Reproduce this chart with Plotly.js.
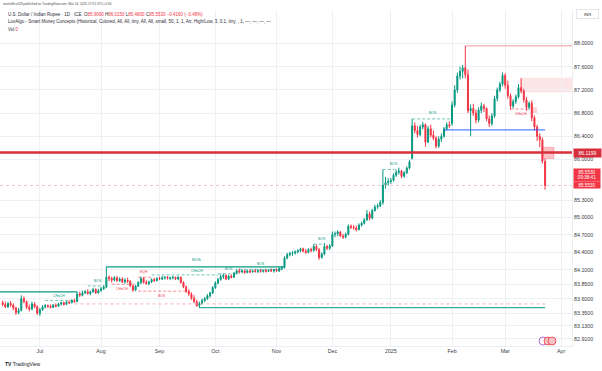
<!DOCTYPE html>
<html>
<head>
<meta charset="utf-8">
<script src="https://cdn.plot.ly/plotly-3.0.1.min.js"></script>
<style>
  html, body { margin: 0; padding: 0; background: #ffffff; }
  #chart { width: 602px; height: 371px; }
</style>
</head>
<body>
<div id="chart"></div>
<script>
// ---------- Candle data: USD/INR daily (ICE), 2024-06-11 .. 2025-03-24 (weekdays) ----------
const firstDay = "2024-06-11";
const lastDay  = "2025-03-24";

const openArr = [
  // Jun
  83.53,83.50,83.46,83.52,83.49,83.44,83.36,83.40,83.60,83.55,83.45,83.42,83.51,83.46,
  // Jul
  83.35,83.41,83.46,83.48,83.47,83.45,83.49,83.47,83.51,83.53,83.50,83.54,83.53,83.57,83.55,83.68,83.66,83.70,83.72,83.69,83.72,83.76,83.70,
  // Aug
  83.74,83.77,83.80,83.97,83.95,83.92,83.96,83.91,83.94,83.89,83.92,83.90,83.82,83.75,83.82,83.88,83.95,83.88,83.86,83.89,83.93,83.91,
  // Sep
  83.95,83.94,83.96,83.97,83.95,83.96,83.97,83.94,83.97,83.88,83.80,83.73,83.68,83.61,83.55,83.48,83.52,83.57,83.60,83.65,83.70,
  // Oct
  83.79,83.87,83.93,83.98,84.00,83.94,83.99,83.97,84.04,84.08,84.06,84.08,84.05,84.08,84.06,84.08,84.07,84.09,84.07,84.09,84.07,84.09,84.08,
  // Nov
  84.10,84.08,84.12,84.14,84.30,84.36,84.38,84.39,84.41,84.43,84.46,84.42,84.40,84.45,84.43,84.50,84.45,84.31,84.37,84.50,84.47,
  // Dec
  84.51,84.71,84.72,84.75,84.68,84.66,84.71,84.85,84.83,84.82,84.79,84.87,84.90,84.96,85.06,84.99,85.12,85.18,85.20,85.26,85.56,85.60,
  // Jan
  85.62,85.64,85.73,85.78,85.80,85.71,85.77,85.85,86.02,86.58,86.50,86.43,86.56,86.60,86.30,86.53,86.42,86.37,86.23,86.35,86.40,86.53,86.60,
  // Feb
  86.62,86.94,87.20,87.44,87.52,87.58,87.46,86.84,86.88,86.80,86.68,86.85,86.92,86.88,86.70,86.62,86.75,87.05,87.20,87.30,
  // Mar
  87.45,87.28,87.10,86.92,87.00,87.08,87.24,87.18,87.03,86.90,86.97,86.72,86.56,86.40,86.34,85.969
];
const highArr = [
  83.57,83.55,83.54,83.56,83.52,83.46,83.44,83.66,83.64,83.57,83.50,83.55,83.54,83.49,
  83.44,83.49,83.51,83.50,83.50,83.51,83.52,83.53,83.55,83.55,83.56,83.57,83.59,83.60,83.72,83.72,83.74,83.75,83.76,83.74,83.79,83.78,83.77,
  83.80,83.83,84.15,84.00,83.98,83.99,83.99,83.97,83.97,83.95,83.96,83.92,83.84,83.84,83.90,83.98,83.97,83.92,83.91,83.95,83.96,83.97,
  83.98,83.99,83.99,83.99,83.98,83.99,83.98,83.99,83.98,83.90,83.83,83.76,83.71,83.66,83.58,83.55,83.60,83.63,83.68,83.72,83.82,
  83.90,83.96,84.02,84.03,84.02,84.01,84.02,84.06,84.11,84.12,84.10,84.10,84.10,84.10,84.10,84.11,84.10,84.11,84.10,84.11,84.11,84.12,84.11,
  84.12,84.14,84.16,84.33,84.39,84.41,84.42,84.43,84.45,84.48,84.48,84.46,84.47,84.48,84.54,84.53,84.47,84.40,84.56,84.53,84.54,
  84.76,84.76,84.78,84.77,84.72,84.74,84.88,84.88,84.87,84.86,84.90,84.93,84.99,85.13,85.10,85.15,85.22,85.24,85.30,85.83,85.70,85.68,
  85.68,85.76,85.82,85.86,85.82,85.80,85.88,85.99,86.70,86.64,86.58,86.60,86.65,86.62,86.58,86.60,86.50,86.40,86.40,86.45,86.56,86.64,86.66,
  87.00,87.28,87.50,87.60,87.63,87.96,87.55,86.95,86.96,86.86,86.90,86.98,86.96,86.90,86.76,86.80,87.10,87.24,87.34,87.50,
  87.49,87.36,87.14,87.04,87.12,87.30,87.40,87.22,87.08,87.00,87.02,86.76,86.60,86.45,86.38,86.015
];
const lowArr = [
  83.47,83.44,83.44,83.46,83.40,83.32,83.33,83.38,83.52,83.42,83.38,83.40,83.44,83.32,
  83.30,83.39,83.43,83.44,83.43,83.44,83.45,83.46,83.48,83.48,83.49,83.51,83.52,83.53,83.54,83.63,83.64,83.68,83.67,83.66,83.70,83.68,83.69,
  83.72,83.75,83.78,83.90,83.88,83.90,83.89,83.89,83.87,83.86,83.87,83.80,83.72,83.73,83.80,83.85,83.86,83.84,83.83,83.87,83.89,83.90,
  83.92,83.92,83.93,83.93,83.92,83.93,83.92,83.92,83.86,83.78,83.70,83.65,83.58,83.52,83.46,83.44,83.50,83.54,83.58,83.62,83.68,
  83.77,83.85,83.91,83.94,83.92,83.92,83.95,83.96,84.02,84.04,84.04,84.03,84.04,84.04,84.05,84.05,84.04,84.05,84.05,84.05,84.06,84.06,84.05,
  84.06,84.06,84.09,84.12,84.28,84.33,84.34,84.36,84.38,84.40,84.40,84.37,84.38,84.40,84.41,84.42,84.27,84.29,84.35,84.44,84.44,
  84.49,84.66,84.68,84.66,84.63,84.64,84.69,84.80,84.79,84.76,84.78,84.84,84.88,84.94,84.95,84.97,85.10,85.15,85.18,85.22,85.50,85.55,
  85.58,85.62,85.70,85.74,85.68,85.69,85.75,85.83,86.00,86.45,86.38,86.40,86.52,86.22,86.28,86.38,86.33,86.19,86.20,86.30,86.38,86.50,86.54,
  86.58,86.90,87.15,87.38,87.40,87.40,86.80,86.40,86.75,86.62,86.64,86.80,86.82,86.66,86.56,86.58,86.72,87.00,87.16,87.26,
  87.22,87.05,86.86,86.88,86.96,87.05,87.14,86.98,86.84,86.86,86.66,86.50,86.32,86.21,85.93,85.48
];
const closeArr = [
  83.50,83.46,83.52,83.49,83.44,83.36,83.40,83.60,83.55,83.45,83.42,83.51,83.46,83.35,
  83.41,83.46,83.48,83.47,83.45,83.49,83.47,83.51,83.53,83.50,83.54,83.53,83.57,83.55,83.68,83.66,83.70,83.72,83.69,83.72,83.76,83.70,83.74,
  83.77,83.80,83.97,83.95,83.92,83.96,83.91,83.94,83.89,83.92,83.90,83.82,83.75,83.82,83.88,83.95,83.88,83.86,83.89,83.93,83.91,83.95,
  83.94,83.96,83.97,83.95,83.96,83.97,83.94,83.97,83.88,83.80,83.73,83.68,83.61,83.55,83.48,83.52,83.57,83.60,83.65,83.70,83.79,
  83.87,83.93,83.98,84.00,83.94,83.99,83.97,84.04,84.08,84.06,84.08,84.05,84.08,84.06,84.08,84.07,84.09,84.07,84.09,84.07,84.09,84.08,84.10,
  84.08,84.12,84.14,84.30,84.36,84.38,84.39,84.41,84.43,84.46,84.42,84.40,84.45,84.43,84.50,84.45,84.31,84.37,84.50,84.47,84.51,
  84.71,84.72,84.75,84.68,84.66,84.71,84.85,84.83,84.82,84.79,84.87,84.90,84.96,85.06,84.99,85.12,85.18,85.20,85.26,85.56,85.60,85.62,
  85.64,85.73,85.78,85.80,85.71,85.77,85.85,85.96,86.58,86.50,86.43,86.56,86.60,86.30,86.53,86.42,86.37,86.23,86.35,86.40,86.53,86.60,86.58,
  86.94,87.20,87.44,87.52,87.58,87.46,86.84,86.88,86.80,86.68,86.85,86.92,86.88,86.70,86.62,86.75,87.05,87.20,87.30,87.45,
  87.28,87.10,86.92,87.00,87.08,87.24,87.18,87.03,86.90,86.97,86.72,86.56,86.40,86.34,85.97,85.553
];

// ---------- Axes ----------
const monthTickDates  = ["2024-07-01","2024-08-01","2024-09-02","2024-10-01","2024-11-01","2024-12-02","2025-01-01","2025-02-03","2025-03-03","2025-04-01"];
const monthTickLabels = ["Jul","Aug","Sep","Oct","Nov","Dec","2025","Feb","Mar","Apr"];
const priceTickVals   = [88.0,87.6,87.2,86.8,86.4,86.0,85.3,85.0,84.7,84.4,84.1,83.85,83.6,83.35,83.13,82.91];
const priceTickLabels = ["88.0000","87.6000","87.2000","86.8000","86.4000","86.0000","85.3000","85.0000","84.7000","84.4000","84.1000","83.8500","83.6000","83.3500","83.1300","82.9100"];
const xRange = ["2024-06-10 00:00","2025-04-07 03:00"];
const yRange = [82.7845, 88.5776];

// ---------- Smart Money Concepts overlay (levels) ----------
const GREEN = "#089981", RED = "#f23645", BLUE = "#2962ff", PINKLINE = "#f59aa2";
const RIGHT_END = "2025-04-07 03:00";
// [from, to, price, color, width]
const smcSolidLines = [
  ["2024-06-10", "2024-07-19", 83.716, GREEN, 1.3],
  ["2024-08-05", "2024-11-06", 84.15,  GREEN, 1.3],
  ["2024-09-23", lastDay,      83.445, GREEN, 1.0],
  ["2025-01-29", lastDay,      86.51,  BLUE,  1.0],
  ["2025-02-10", RIGHT_END,    87.96,  PINKLINE, 1.0]
];
// [from, to, price, color]
const smcDashedLines = [
  ["2024-07-03", "2024-07-18", 83.57, GREEN],
  ["2024-07-25", "2024-08-02", 83.82, GREEN],
  ["2024-08-07", "2024-08-20", 83.85, RED],
  ["2024-08-21", "2024-08-28", 83.97, RED],
  ["2024-08-21", "2024-09-16", 83.73, RED],
  ["2024-08-28", "2024-10-02", 84.01, GREEN],
  ["2024-10-02", "2024-10-14", 84.03, GREEN],
  ["2024-10-14", "2024-11-06", 84.107, GREEN],
  ["2024-11-21", "2024-11-27", 84.54, GREEN],
  ["2024-12-27", "2025-01-06", 85.83, GREEN],
  ["2025-01-13", "2025-02-03", 86.70, GREEN],
  ["2025-03-05", "2025-03-14", 86.87, RED]
];
// [from, to, price, color]
const smcDottedLines = [
  ["2024-07-18", lastDay, 83.51, "#f0a0a8"]
];
// [text, date, price, color, size]
const smcLabels = [
  ["CHoCH", "2024-07-10", 83.645, GREEN, 3.4],
  ["BOS",   "2024-07-31", 83.90,  GREEN, 3.4],
  ["CHoCH", "2024-08-13", 83.77,  RED,   3.4],
  ["EQH",   "2024-08-23", 84.06,  RED,   3.4],
  ["BOS",   "2024-09-03", 83.647, RED,   3.4],
  ["BOS",   "2024-09-20", 84.27,  GREEN, 4.2],
  ["CHoCH", "2024-09-20", 84.085, GREEN, 3.4],
  ["BOS",   "2024-10-08", 84.11,  GREEN, 3.4],
  ["BOS",   "2024-10-24", 84.20,  GREEN, 3.4],
  ["BOS",   "2024-11-26", 84.63,  GREEN, 3.4],
  ["BOS",   "2025-01-02", 85.92,  GREEN, 3.4],
  ["BOS",   "2025-01-23", 86.80,  GREEN, 3.4],
  ["CHoCH", "2025-03-11", 86.79,  RED,   3.4]
];
// [from, to, low, high, fill, border]
const smcZones = [
  ["2025-03-10 15:00", RIGHT_END,          87.16,  87.41, "rgba(242,54,69,0.13)", "rgba(242,54,69,0.0)"],
  ["2025-03-20 20:00", "2025-03-27 08:00", 86.015, 86.21, "rgba(242,54,69,0.30)", "rgba(242,54,69,0.45)"],
  ["2025-03-17",       "2025-03-19",       86.80,  86.90, "rgba(242,54,69,0.22)", "rgba(242,54,69,0.0)"]
];
const keyLevel = 86.1199;       // thick red horizontal line
const lastPrice = 85.553;       // current price line
const countdown = "09:38:41";

// ---------- Build weekday dates ----------
function buildDates(a, b) {
  const out = [];
  const d = new Date(a + "T00:00:00Z"), end = new Date(b + "T00:00:00Z");
  while (d <= end) {
    const w = d.getUTCDay();
    if (w !== 0 && w !== 6) out.push(d.toISOString().slice(0, 10));
    d.setUTCDate(d.getUTCDate() + 1);
  }
  return out;
}
const dates = buildDates(firstDay, lastDay);

const candle = {
  type: "candlestick",
  x: dates, open: openArr, high: highArr, low: lowArr, close: closeArr,
  increasing: { line: { color: GREEN, width: 1 }, fillcolor: GREEN },
  decreasing: { line: { color: RED, width: 1 }, fillcolor: RED },
  whiskerwidth: 0,
  hoverinfo: "skip",
  showlegend: false
};

const shapes = [];
smcZones.forEach(([a, b, lo, hi, fill, border]) => shapes.push({
  type: "rect", xref: "x", yref: "y", x0: a, x1: b, y0: lo, y1: hi,
  fillcolor: fill, line: { color: border, width: 0.6 }, layer: "below"
}));
smcDottedLines.forEach(([a, b, p, c]) => shapes.push({
  type: "line", xref: "x", yref: "y", x0: a, x1: b, y0: p, y1: p,
  line: { color: c, width: 0.8, dash: "dot" }
}));
smcSolidLines.forEach(([a, b, p, c, w]) => shapes.push({
  type: "line", xref: "x", yref: "y", x0: a, x1: b, y0: p, y1: p,
  line: { color: c, width: w }
}));
smcDashedLines.forEach(([a, b, p, c]) => shapes.push({
  type: "line", xref: "x", yref: "y", x0: a, x1: b, y0: p, y1: p,
  line: { color: c, width: 0.7, dash: "3px,2px" }, opacity: 0.8
}));
// price line and key level across the whole pane
shapes.push({ type: "line", xref: "paper", yref: "y", x0: 0, x1: 1, y0: lastPrice, y1: lastPrice,
  line: { color: "#eab4b9", width: 0.8, dash: "dot" } });
shapes.push({ type: "line", xref: "paper", yref: "y", x0: 0, x1: 1, y0: keyLevel, y1: keyLevel,
  line: { color: "#d7303c", width: 2.6 } });
// small flag markers on the time axis
[[-10, "rgba(0,0,0,0)", "#9c4fd1"], [-5, "#f5c2c6", "#f23645"], [-1, "#f5c2c6", "#f23645"]].forEach(([dx, fill, stroke]) => shapes.push({
  type: "circle", xref: "paper", yref: "paper", xsizemode: "pixel", ysizemode: "pixel",
  xanchor: 553 / 572, yanchor: 1 - (341 - 10) / 336,
  x0: dx - 4, x1: dx + 4, y0: -4, y1: 4,
  fillcolor: fill, line: { color: stroke, width: 0.8 }
}));

const annotations = [];
smcLabels.forEach(([t, d, p, c, s]) => annotations.push({
  text: t, x: d, y: p, xref: "x", yref: "y", showarrow: false,
  font: { size: s, color: c }, xanchor: "center", yanchor: "middle"
}));

const py = (v) => 1 - (v - 10) / 336;   // pixel row -> paper y
const px = (v) => v / 572;              // pixel col -> paper x
const hdr = "#2a2e39";
annotations.push(
  { text: "snehofficial18 published on TradingView.com, Mar 24, 2025 17:51 UTC+5:30",
    x: px(1), y: py(4), xref: "paper", yref: "paper", showarrow: false, xanchor: "left", yanchor: "middle",
    font: { size: 3.2, color: "#4a4a4a" } },
  { text: 'U.S. Dollar / Indian Rupee · 1D · ICE  O<span style="color:#f23645">85.9690</span> H<span style="color:#f23645">86.0150</span> L<span style="color:#f23645">85.4800</span> C<span style="color:#f23645">85.5530</span> <span style="color:#f23645">−0.4160 (−0.48%)</span>',
    x: px(6), y: py(15), xref: "paper", yref: "paper", showarrow: false, xanchor: "left", yanchor: "middle",
    font: { size: 4.5, color: hdr } },
  { text: "LuxAlgo - Smart Money Concepts (Historical, Colored, All, All, tiny, All, All, small, 50, 1, 1, Atr, High/Low, 3, 0.1, tiny, , 1, —, —, —, —",
    x: px(6), y: py(22), xref: "paper", yref: "paper", showarrow: false, xanchor: "left", yanchor: "middle",
    font: { size: 4.5, color: hdr } },
  { text: 'Vol <span style="color:#f23645">0</span>',
    x: px(6), y: py(29), xref: "paper", yref: "paper", showarrow: false, xanchor: "left", yanchor: "middle",
    font: { size: 4.5, color: hdr } },
  { text: "INR", x: px(587), y: py(14), xref: "paper", yref: "paper", showarrow: false,
    xanchor: "center", yanchor: "middle", font: { size: 4.3, color: "#333" },
    bgcolor: "#ffffff", bordercolor: "#d6d8de", borderwidth: 0.6, borderpad: 2, width: 18 },
  { text: "86.1199", x: px(573), y: keyLevel, xref: "paper", yref: "y", showarrow: false,
    xanchor: "left", yanchor: "middle", font: { size: 5, color: "#ffffff" },
    bgcolor: "#d7303c", borderpad: 1, width: 25, align: "center" },
  { text: "85.5530<br>" + countdown, x: px(573), y: lastPrice, yshift: 10, xref: "paper", yref: "y", showarrow: false,
    xanchor: "left", yanchor: "middle", font: { size: 4.6, color: "#ffffff" },
    bgcolor: "#f23645", borderpad: 0.5, width: 25, align: "center" },
  { text: "85.5530", x: px(573), y: lastPrice, xref: "paper", yref: "y", showarrow: false,
    xanchor: "left", yanchor: "middle", font: { size: 4.6, color: "#ffffff" },
    bgcolor: "#f23645", borderpad: 0.5, width: 25, align: "center" },
  { text: "<b>TV</b> TradingView", x: px(3), y: -18 / 336, xref: "paper", yref: "paper", showarrow: false,
    xanchor: "left", yanchor: "middle", font: { size: 5, color: "#131722" } }
);

const layout = {
  width: 602, height: 371,
  margin: { l: 0, r: 30, t: 10, b: 25, pad: 0 },
  paper_bgcolor: "#ffffff", plot_bgcolor: "#ffffff",
  font: { family: "Liberation Sans, Arial, sans-serif", size: 5, color: "#333" },
  showlegend: false,
  boxgap: 0.45,
  xaxis: {
    type: "date", range: xRange,
    rangebreaks: [{ bounds: ["sat", "mon"] }],
    rangeslider: { visible: false },
    tickmode: "array", tickvals: monthTickDates, ticktext: monthTickLabels,
    showgrid: true, gridcolor: "#eef0f4", gridwidth: 1,
    ticks: "", zeroline: false, showline: true, linecolor: "#eceef2", linewidth: 1,
    tickfont: { size: 5.3, color: "#3a3e48" }, fixedrange: true
  },
  yaxis: {
    side: "right", range: yRange,
    tickmode: "array", tickvals: priceTickVals, ticktext: priceTickLabels,
    showgrid: true, gridcolor: "#eef0f4", gridwidth: 1,
    ticks: "", zeroline: false, showline: true, linecolor: "#eceef2", linewidth: 1,
    tickfont: { size: 5.3, color: "#3a3e48" }, fixedrange: true
  },
  shapes: shapes,
  annotations: annotations
};

Plotly.newPlot("chart", [candle], layout, { displayModeBar: false, staticPlot: true });
</script>
</body>
</html>
